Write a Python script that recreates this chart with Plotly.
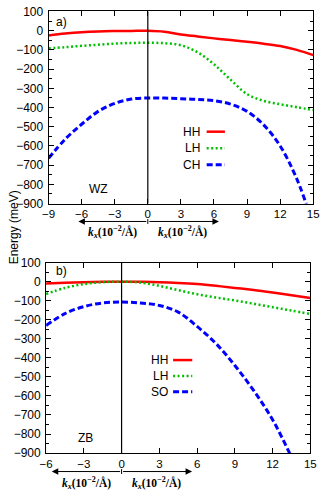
import plotly.graph_objects as go

# wurtzite panel (a)
k_wz = [-9, -7.5, -6, -4.5, -3, -1.5, 0, 1.5, 3, 4.5, 6, 7.5, 9, 10.5, 12, 13.5, 15]
hh_wz = [-25, -15, -8, -4, -2, -1, 0, -5, -20, -30, -40, -49, -58, -68, -80, -100, -127]
lh_wz = [-92, -86, -79, -73, -67, -64, -63, -65, -76, -112, -175, -255, -330, -365, -383, -398, -413]
ch_wz = [-664, -565, -487, -420, -378, -356, -350, -351, -354, -358, -364, -382, -420, -490, -600, -770, -1010]

# zincblende panel (b)
k_zb = [-6, -4.5, -3, -1.5, 0, 1.5, 3, 4.5, 6, 7.5, 9, 10.5, 12, 13.5, 15]
hh_zb = [-10, -6, -3, -1, 0, -1, -3, -7, -13, -22, -33, -44, -57, -71, -86]
lh_zb = [-65, -33, -13, -3, 0, -5, -22, -45, -66, -83, -99, -116, -134, -152, -170]
so_zb = [-230, -168, -131, -112, -107, -112, -125, -160, -235, -325, -440, -572, -725, -920, -1120]

names_wz = ["HH", "LH", "CH"]
names_zb = ["HH", "LH", "SO"]

W, H = 325, 497
RED, GREEN, BLUE = "#ff0000", "#00c000", "#0000ff"
styles = [
    dict(color=RED, width=2.5, dash="solid"),
    dict(color=GREEN, width=2.5, dash="2px,2.5px"),
    dict(color=BLUE, width=3, dash="6px,3px"),
]
FONT = "Liberation Sans, Arial, sans-serif"

def px_x(p):
    return p / W

def px_y(p):
    return 1 - p / H

fig = go.Figure()

for ys, st in zip([hh_wz, lh_wz, ch_wz], styles):
    fig.add_trace(go.Scatter(x=k_wz, y=ys, mode="lines", line=dict(shape="spline", **st),
                             xaxis="x", yaxis="y", showlegend=False, hoverinfo="skip"))
for ys, st in zip([hh_zb, lh_zb, so_zb], styles):
    fig.add_trace(go.Scatter(x=k_zb, y=ys, mode="lines", line=dict(shape="spline", **st),
                             xaxis="x2", yaxis="y2", showlegend=False, hoverinfo="skip"))

axis_common = dict(
    showline=True, linecolor="black", linewidth=1, mirror="allticks",
    ticks="inside", ticklen=5, tickcolor="black", tickwidth=1,
    showgrid=False, zeroline=False, ticklabeloverflow="allow",
)
xfont = dict(family=FONT, size=11.5, color="black")
yfont = dict(family=FONT, size=12, color="black")
yminor = dict(dtick=50, ticks="inside", ticklen=3, tickcolor="black", showgrid=False)

fig.update_layout(
    width=W, height=H,
    margin=dict(l=0, r=0, t=0, b=0),
    paper_bgcolor="white", plot_bgcolor="white",
    xaxis=dict(domain=[px_x(43.3), px_x(319)], anchor="y", range=[-9, 15],
               tick0=-9, dtick=3, tickfont=xfont, **axis_common),
    yaxis=dict(domain=[px_y(202.3), px_y(4.6)], anchor="x", range=[-900, 100],
               dtick=100, minor=yminor, ticklabelstandoff=2, tickfont=yfont, **axis_common),
    xaxis2=dict(domain=[px_x(40.7), px_x(316)], anchor="y2", range=[-6, 15],
                tick0=-6, dtick=3, tickfont=xfont, **axis_common),
    yaxis2=dict(domain=[px_y(459), px_y(263)], anchor="x2", range=[-900, 100],
                dtick=100, minor=yminor, ticklabelstandoff=2, tickfont=yfont, **axis_common),
)

# vertical line at k = 0
for xr, yr in [("x", "y domain"), ("x2", "y2 domain")]:
    fig.add_shape(type="line", xref=xr, yref=yr, x0=0, x1=0, y0=0, y1=1,
                  line=dict(color="black", width=1.2))

# k-direction arrows under each panel
kx_label = "<b><i>k</i><sub><i>x</i></sub>(10<sup>−2</sup>/Å)</b>"
arrows = [("x", 220.7, 231.5, -6.3, 6.45, -3.2, 3.15),
          ("x2", 478, 489.5, -5.55, 5.6, -2.8, 2.8)]
for xr, ay_px, lab_px, left, right, lab_l, lab_r in arrows:
    for tip in (left, right):
        fig.add_annotation(x=tip, y=px_y(ay_px), xref=xr, yref="paper",
                           ax=0, ay=0, axref=xr, ayref="pixel", text="",
                           showarrow=True, arrowhead=2, arrowsize=1.3,
                           arrowwidth=1, arrowcolor="black")
    fig.add_shape(type="line", xref=xr, yref="paper", x0=0, x1=0,
                  y0=px_y(ay_px + 2.5), y1=px_y(ay_px - 2.5),
                  line=dict(color="black", width=1))
    for lx in (lab_l, lab_r):
        fig.add_annotation(x=lx, y=px_y(lab_px), xref=xr, yref="paper", text=kx_label,
                           showarrow=False, xanchor="center", yanchor="middle",
                           font=dict(family="Liberation Serif, serif", size=11.5, color="black"))

# panel labels
for txt, xp, yp in [("a)", 49, 15), ("WZ", 83, 187), ("b)", 49, 272), ("ZB", 72, 443)]:
    fig.add_annotation(x=px_x(xp), y=px_y(yp), xref="paper", yref="paper", text=txt,
                       showarrow=False, xanchor="left", yanchor="middle",
                       font=dict(family=FONT, size=12, color="black"))

# hand-placed legends (text left, sample line right)
legends = [(names_wz, 203, 208, 227, [128.3, 145.3, 162.3]),
           (names_zb, 170, 173, 193, [363.3, 379.7, 396])]
for names, tx, l0, l1, rows in legends:
    for name, st, yp in zip(names, styles, rows):
        fig.add_annotation(x=px_x(tx), y=px_y(yp), xref="paper", yref="paper", text=name,
                           showarrow=False, xanchor="right", yanchor="middle",
                           font=dict(family=FONT, size=12, color="black"))
        fig.add_shape(type="line", xref="paper", yref="paper",
                      x0=px_x(l0), x1=px_x(l1), y0=px_y(yp), y1=px_y(yp),
                      line=dict(color=st["color"], width=st["width"], dash=st["dash"]))

fig.add_annotation(x=px_x(7), y=px_y(227), xref="paper", yref="paper", text="Energy (meV)",
                   textangle=-90, showarrow=False, xanchor="center", yanchor="middle",
                   font=dict(family=FONT, size=12, color="black"))

# drop the default body margin so the figure sits at the page corner
fig.write_html("out.html", config={"displayModeBar": False},
               post_script="document.body.style.margin='0';")
